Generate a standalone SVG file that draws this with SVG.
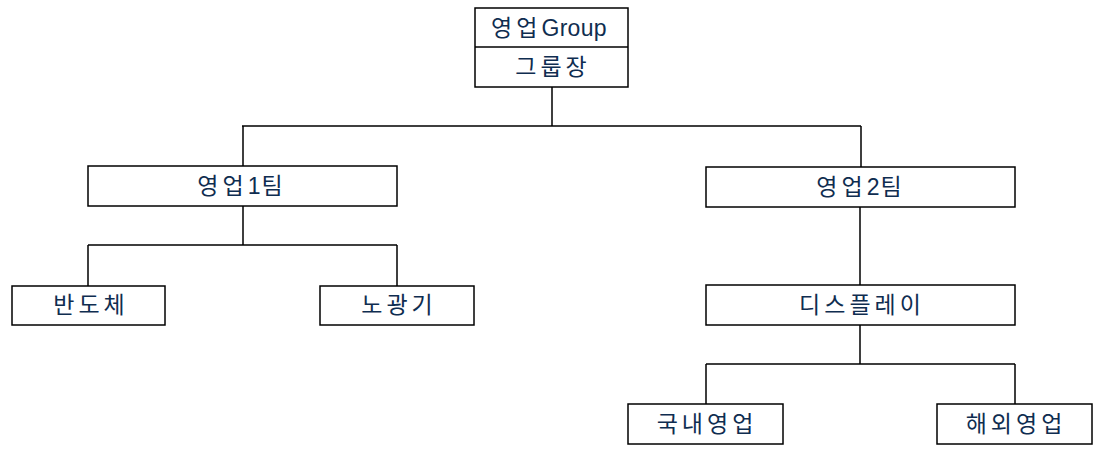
<svg xmlns="http://www.w3.org/2000/svg" width="1102" height="451" viewBox="0 0 1102 451">
<style>
.box{fill:#fff;stroke:#000;stroke-width:1.5}
.ln{fill:none;stroke:#000;stroke-width:1.5}
text{font-family:"Liberation Sans","Noto Sans CJK KR",sans-serif;font-size:23px;fill:#0f2d50;text-anchor:middle;dominant-baseline:central;letter-spacing:4px}
.g{letter-spacing:0.3px}
</style>
<rect width="1102" height="451" fill="#fff"/>
<g id="connectors">
<path class="ln" d="M552 87V126M242 126H861M243 126V166M861 126V167"/>
<path class="ln" d="M243 206V245M88 245H397M88 245V286M397 245V286"/>
<path class="ln" d="M860 207V285M860 325V364M706 364H1015M706 364V404M1015 364V404"/>
</g>
<g id="n-group">
<rect class="box" x="475" y="8" width="153" height="79"/>
<line class="ln" x1="475" y1="47" x2="628" y2="47"/>
<text x="549" y="28">영업<tspan class="g">Group</tspan></text>
<text x="553" y="67">그룹장</text>
</g>
<g id="n-team1"><rect class="box" x="88" y="166" width="309" height="40"/><text x="242" y="186">영업<tspan letter-spacing="1">1</tspan>팀</text></g>
<g id="n-team2"><rect class="box" x="706" y="167" width="309" height="40"/><text x="861" y="187">영업<tspan letter-spacing="1">2</tspan>팀</text></g>
<g id="n-semi"><rect class="box" x="12" y="286" width="153" height="39"/><text x="91" y="305">반도체</text></g>
<g id="n-litho"><rect class="box" x="320" y="286" width="154" height="39"/><text x="399" y="305">노광기</text></g>
<g id="n-display"><rect class="box" x="706" y="285" width="309" height="40"/><text x="862" y="305">디스플레이</text></g>
<g id="n-dom"><rect class="box" x="628" y="404" width="155" height="40"/><text x="707" y="424">국내영업</text></g>
<g id="n-ovs"><rect class="box" x="937" y="404" width="155" height="40"/><text x="1016" y="424">해외영업</text></g>
</svg>
